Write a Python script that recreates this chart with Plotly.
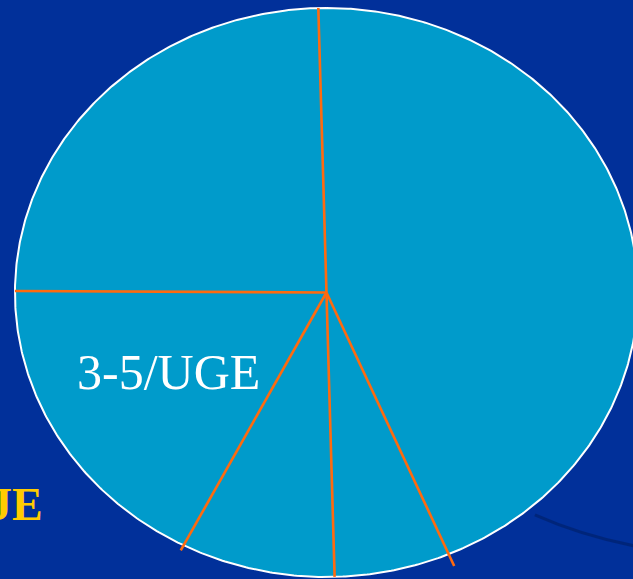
import numpy as np
import plotly.graph_objects as go

# Slice shares, clockwise from 12 o'clock
labels = ["", "", "", "3-5/UGE", ""]
values = [44.0, 6.0, 8.0, 17.5, 24.5]
start_angle = -1.5  # degrees, clockwise from top

# Extra labels placed beside the pie
side_labels = ["JE"]

# How far each radial divider reaches (fraction of the radius)
divider_reach = [1.0, 1.045, 1.0, 1.02, 1.0]

BG = "#01309A"
FILL = "#009BCB"
EDGE = "#FFFFFF"
DIVIDER = "#FF6A0E"

vals = np.array(values, dtype=float)
bounds = start_angle + 360.0 * np.concatenate([[0.0], np.cumsum(vals) / vals.sum()])


def pt(theta_deg, r=1.0):
    t = np.radians(theta_deg)
    return r * np.sin(t), r * np.cos(t)


fig = go.Figure()

# Slice wedges
for i in range(len(vals)):
    th = np.linspace(bounds[i], bounds[i + 1], 120)
    xs, ys = pt(th)
    fig.add_trace(go.Scatter(
        x=np.concatenate([[0.0], xs, [0.0]]),
        y=np.concatenate([[0.0], ys, [0.0]]),
        mode="lines", fill="toself", fillcolor=FILL,
        line=dict(width=0, color=FILL), hoverinfo="skip",
        name=labels[i] or f"slice {i + 1}",
    ))

# Outer rim
th = np.linspace(0, 360, 721)
rx, ry = pt(th)
fig.add_trace(go.Scatter(x=rx, y=ry, mode="lines",
                         line=dict(color=EDGE, width=2), hoverinfo="skip"))

# Radial dividers between slices
for i in range(len(vals)):
    x1, y1 = pt(bounds[i], divider_reach[i])
    fig.add_trace(go.Scatter(x=[0.0, x1], y=[0.0, y1], mode="lines",
                             line=dict(color=DIVIDER, width=2.6), hoverinfo="skip"))

annotations = [
    dict(x=-0.506, y=-0.278, text="3-5/UGE", showarrow=False,
         font=dict(family="Liberation Serif", size=50, color="#FFFFFF"),
         xanchor="center", yanchor="middle"),
    dict(x=-0.905, y=-0.745, text=side_labels[0], showarrow=False,
         font=dict(family="Liberation Serif", size=46, color="#FFCC00", weight="bold"),
         xanchor="right", yanchor="middle"),
]

fig.update_layout(
    width=633, height=579,
    margin=dict(l=0, r=0, t=0, b=0),
    paper_bgcolor=BG, plot_bgcolor=BG,
    showlegend=False,
    xaxis=dict(range=[-1.048, 0.984], visible=False, fixedrange=True),
    yaxis=dict(range=[-1.007, 1.028], visible=False, fixedrange=True),
    annotations=annotations,
    shapes=[dict(type="path", layer="below",
                 path="M 0.669 -0.782 Q 0.83 -0.86 1.01 -0.895",
                 line=dict(color="rgba(0,25,85,0.45)", width=3))],
)

fig.write_html("out.html")
